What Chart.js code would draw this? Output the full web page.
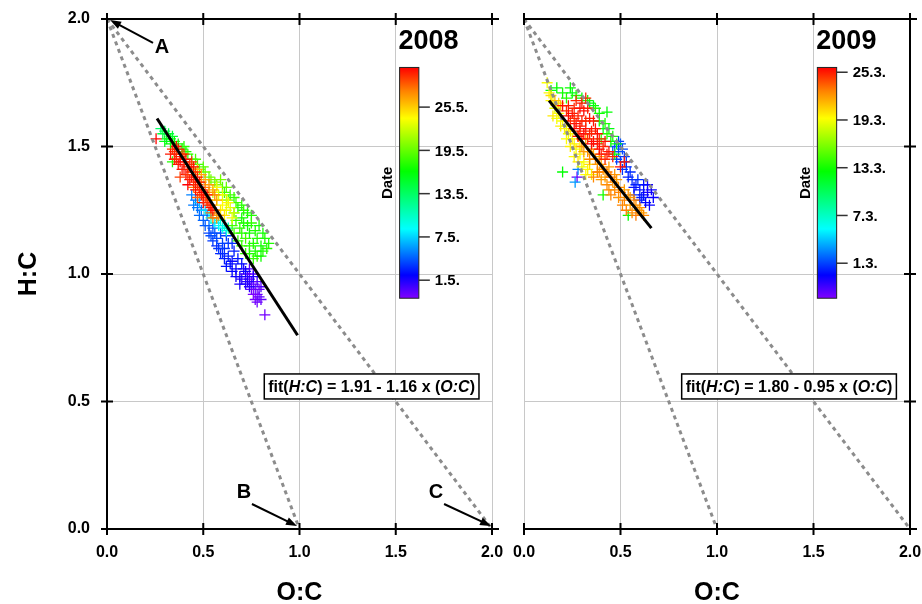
<!DOCTYPE html>
<html lang="en">
<head>
<meta charset="UTF-8" />
<title>Van Krevelen diagram 2008 / 2009</title>
<script src="https://cdn.jsdelivr.net/npm/chart.js@4.4.1/dist/chart.umd.min.js"></script>
<style>
  body { margin: 0; background: #fff; }
  #wrap { position: relative; width: 922px; height: 604px; }
  #wrap canvas { position: absolute; left: 0; top: 0; }
</style>
</head>
<body>
<div id="wrap">
  <canvas id="chart2008" width="922" height="604"></canvas>
  <canvas id="chart2009" width="922" height="604"></canvas>
</div>
<script>
// each point: [O:C, H:C, day]  (2008: day of May, <1 = end of April)
const points2008 = [
  [0.72,1.00,-0.8],[0.74,1.02,-0.5],[0.76,1.00,-1.0],[0.74,0.98,-0.3],[0.75,0.94,-1.2],[0.76,0.96,-0.6],
  [0.77,0.94,-0.9],[0.78,0.97,-0.2],[0.78,0.92,-1.1],[0.79,0.91,-0.7],[0.80,0.95,-0.4],[0.77,0.90,-1.3],
  [0.82,0.84,-1.2],[0.73,0.99,-0.1],[0.75,0.97,-0.9],[0.79,0.94,-1.0],[0.76,0.92,-1.4],[0.80,0.90,-0.8],
  [0.78,0.89,-1.1],
  [0.70,0.98,0.5],[0.73,0.97,0.8],[0.76,0.99,1.0],[0.74,0.95,0.6],[0.71,1.02,0.9],[0.72,0.96,0.7],
  [0.69,0.99,1.2],[0.69,0.96,1.1],[0.67,0.99,1.3],[0.72,1.01,1.4],[0.65,1.05,1.5],[0.67,1.02,1.6],
  [0.65,1.01,1.7],[0.70,1.04,1.8],[0.64,1.04,2.0],[0.62,1.03,2.1],[0.68,1.06,2.2],[0.61,1.06,2.3],
  [0.66,1.09,2.4],[0.59,1.08,2.5],[0.63,1.07,2.6],[0.57,1.11,2.7],[0.60,1.08,2.8],[0.65,1.12,2.8],
  [0.61,1.10,2.9],[0.58,1.10,3.0],[0.63,1.12,3.0],[0.55,1.13,3.1],[0.62,1.15,3.2],[0.60,1.12,3.3],
  [0.53,1.16,3.4],[0.57,1.14,3.5],[0.54,1.15,3.6],[0.59,1.16,3.6],[0.56,1.16,3.7],[0.55,1.18,3.8],
  [0.51,1.19,3.9],[0.53,1.19,4.0],[0.50,1.21,4.1],[0.52,1.23,4.3],[0.48,1.23,4.4],[0.49,1.25,4.5],
  [0.47,1.26,4.6],[0.46,1.29,4.7],[0.45,1.27,4.8],[0.44,1.31,4.9],
  [0.48,1.28,6.5],[0.51,1.25,7.0],[0.57,1.22,7.2],[0.56,1.20,7.5],[0.58,1.19,8.0],[0.53,1.24,8.2],
  [0.60,1.18,8.5],[0.61,1.19,8.8],[0.62,1.17,9.0],[0.59,1.21,9.2],[0.54,1.22,9.5],[0.63,1.18,9.8],
  [0.28,1.57,13.0],[0.30,1.56,13.5],[0.32,1.55,14.0],[0.29,1.55,14.2],[0.34,1.54,14.5],[0.31,1.53,15.0],
  [0.30,1.52,15.5],[0.33,1.53,15.5],[0.33,1.51,16.0],[0.36,1.50,16.0],[0.35,1.52,16.2],[0.39,1.49,16.5],
  [0.37,1.51,16.8],[0.41,1.48,17.0],[0.34,1.44,17.0],[0.40,1.50,17.2],[0.42,1.47,17.6],
  [0.68,1.26,17.0],[0.71,1.25,17.5],[0.66,1.24,18.0],[0.70,1.22,16.5],[0.75,1.23,17.0],[0.65,1.19,18.0],
  [0.69,1.18,17.5],[0.73,1.19,16.5],[0.77,1.17,17.0],[0.81,1.16,16.5],[0.68,1.13,17.5],[0.72,1.14,18.0],
  [0.76,1.12,17.0],[0.80,1.11,16.5],[0.84,1.12,17.0],[0.74,1.08,16.5],[0.78,1.07,17.5],[0.81,1.09,17.0],
  [0.70,1.27,17.2],[0.73,1.24,16.8],[0.67,1.21,17.6],[0.71,1.20,17.0],[0.75,1.20,17.4],[0.79,1.19,16.8],
  [0.66,1.16,17.9],[0.70,1.16,17.3],[0.74,1.16,16.7],[0.78,1.14,17.1],[0.82,1.14,16.9],[0.70,1.11,17.7],
  [0.74,1.11,17.3],[0.77,1.09,16.9],[0.83,1.10,17.2],[0.76,1.06,17.6],[0.80,1.07,16.6],[0.72,1.08,17.4],
  [0.44,1.45,17.5],[0.47,1.43,18.0],[0.50,1.42,18.5],[0.45,1.41,17.5],[0.46,1.45,18.2],[0.48,1.41,18.6],
  [0.53,1.38,19.0],[0.51,1.40,19.2],[0.56,1.36,19.5],[0.54,1.37,19.6],[0.59,1.37,19.5],[0.57,1.35,20.0],
  [0.60,1.34,18.5],[0.62,1.34,19.0],[0.61,1.32,18.0],[0.64,1.31,18.0],[0.63,1.29,18.4],[0.66,1.30,17.5],
  [0.67,1.28,17.8],
  [0.55,1.32,22.0],[0.58,1.31,22.5],[0.62,1.29,22.0],[0.57,1.29,23.0],[0.60,1.27,23.5],[0.62,1.25,23.0],
  [0.64,1.26,22.5],[0.66,1.24,22.0],[0.59,1.25,24.0],[0.57,1.34,23.2],[0.60,1.31,22.8],[0.63,1.28,23.6],
  [0.61,1.23,24.2],[0.65,1.22,23.0],
  [0.47,1.41,25.5],[0.49,1.39,26.0],[0.51,1.37,26.0],[0.53,1.35,26.5],[0.55,1.33,26.0],[0.49,1.36,26.5],
  [0.53,1.32,26.8],[0.57,1.29,26.2],[0.56,1.31,27.2],[0.50,1.31,27.0],[0.52,1.29,27.0],[0.54,1.27,26.5],
  [0.56,1.25,27.0],[0.58,1.23,26.5],[0.57,1.22,26.6],[0.55,1.22,27.5],[0.54,1.24,27.8],[0.45,1.34,27.5],
  [0.51,1.34,27.3],[0.48,1.32,28.0],[0.47,1.30,28.2],
  [0.34,1.49,29.0],[0.36,1.47,29.2],[0.35,1.45,29.5],[0.38,1.46,29.8],[0.37,1.43,30.0],[0.40,1.47,29.3],
  [0.40,1.44,29.6],[0.39,1.41,30.2],[0.42,1.42,29.9],[0.41,1.39,30.4],[0.44,1.44,29.1],[0.44,1.40,29.7],
  [0.43,1.37,30.1],[0.45,1.36,29.4],[0.47,1.38,29.8],[0.46,1.33,30.3],[0.48,1.34,29.5],[0.49,1.31,30.0],
  [0.51,1.30,29.2],[0.50,1.28,30.4],[0.53,1.27,29.7],[0.55,1.25,30.0],[0.38,1.38,29.0],[0.42,1.35,30.5],
  [0.36,1.50,30.2],[0.35,1.48,29.4],[0.37,1.49,30.1],[0.39,1.47,29.1],[0.41,1.45,30.3],[0.43,1.43,29.5],
  [0.45,1.42,30.2],[0.46,1.40,29.0],[0.44,1.38,29.9],[0.48,1.36,30.1],[0.47,1.35,29.3],[0.49,1.33,29.6],
  [0.50,1.32,30.5],[0.52,1.31,29.9],[0.52,1.28,29.4],[0.54,1.26,30.2],[0.40,1.41,29.8],[0.42,1.39,29.2],
  [0.38,1.44,30.4],[0.36,1.45,29.6],[0.46,1.37,30.0],[0.33,1.47,29.9],[0.255,1.53,30.3]
];

// each point: [O:C, H:C, day]  (2009: day of March, <1 = end of February)
const points2009 = [
  [0.64,1.32,-1.0],[0.66,1.33,-0.8],[0.64,1.35,-0.9],[0.65,1.27,-0.6],[0.67,1.30,-0.7],[0.63,1.28,-0.4],
  [0.62,1.35,-0.3],[0.62,1.31,-0.5],[0.60,1.33,-0.1],[0.60,1.29,0.0],[0.61,1.30,0.1],[0.58,1.35,0.2],
  [0.54,1.38,0.2],[0.57,1.31,0.3],[0.57,1.34,-0.2],[0.56,1.37,0.4],[0.55,1.40,0.5],[0.53,1.44,0.5],
  [0.53,1.42,0.6],[0.59,1.37,0.6],[0.51,1.41,0.7],[0.52,1.46,0.8],[0.49,1.52,0.8],[0.50,1.44,0.9],
  [0.48,1.45,1.0],[0.46,1.48,1.0],[0.51,1.49,1.1],[0.49,1.48,1.2],[0.47,1.50,1.3],[0.50,1.51,1.4],
  [0.275,1.38,-2.8],[0.28,1.41,2.5],[0.265,1.36,3.0],
  [0.14,1.72,12.0],[0.17,1.73,12.5],[0.20,1.71,13.0],[0.25,1.71,12.0],[0.24,1.73,12.7],[0.22,1.69,13.5],
  [0.27,1.70,13.2],[0.30,1.69,12.5],[0.33,1.68,13.0],[0.34,1.67,12.3],[0.36,1.66,12.0],[0.37,1.65,13.5],
  [0.43,1.635,12.5],[0.39,1.63,12.8],[0.39,1.60,13.0],[0.42,1.59,13.3],[0.41,1.57,12.0],[0.44,1.57,12.2],
  [0.43,1.55,13.5],[0.46,1.54,13.1],[0.45,1.52,12.5],[0.48,1.51,12.6],[0.47,1.47,13.0],[0.40,1.53,14.0],
  [0.20,1.40,12.5],[0.41,1.31,13.0],[0.54,1.23,12.5],
  [0.12,1.75,19.0],[0.13,1.71,19.5],[0.15,1.68,19.0],[0.14,1.68,19.4],[0.16,1.65,18.5],[0.18,1.63,19.2],
  [0.15,1.62,19.8],[0.17,1.61,19.0],[0.20,1.60,19.0],[0.19,1.58,19.6],[0.21,1.57,19.5],[0.22,1.58,18.9],
  [0.23,1.55,18.8],[0.22,1.53,19.2],[0.25,1.53,19.3],[0.24,1.50,19.6],[0.26,1.51,19.7],[0.27,1.49,19.0],
  [0.26,1.46,19.3],[0.29,1.47,19.4],[0.28,1.44,19.8],[0.31,1.44,19.1],[0.30,1.42,18.8],[0.33,1.41,19.5],
  [0.32,1.39,19.2],[0.35,1.39,19.7],[0.14,1.70,20.0],[0.18,1.67,20.2],[0.17,1.66,19.8],[0.24,1.56,20.0],
  [0.29,1.50,19.9],[0.34,1.43,20.1],
  [0.16,1.68,21.0],[0.19,1.66,21.3],[0.28,1.54,21.5],[0.32,1.53,21.8],[0.30,1.50,22.0],[0.33,1.48,22.2],
  [0.36,1.47,21.7],[0.39,1.46,22.0],[0.34,1.45,22.4],[0.38,1.43,22.1],[0.41,1.41,22.3],[0.44,1.42,21.9],
  [0.47,1.39,22.2],[0.36,1.38,22.5],[0.40,1.37,22.0],[0.43,1.35,22.4],[0.46,1.36,22.1],[0.49,1.34,22.3],
  [0.52,1.33,21.8],[0.45,1.31,22.6],[0.49,1.30,22.2],[0.52,1.29,22.5],[0.55,1.30,22.0],[0.58,1.27,22.3],
  [0.53,1.25,22.7],[0.56,1.24,22.4],[0.59,1.25,22.1],[0.62,1.23,22.5],[0.31,1.48,21.9],[0.35,1.49,22.3],
  [0.37,1.45,22.6],[0.40,1.43,21.8],[0.43,1.40,22.5],[0.39,1.40,22.2],[0.42,1.38,21.7],[0.45,1.38,22.8],
  [0.48,1.37,22.0],[0.47,1.33,22.4],[0.50,1.32,22.7],[0.54,1.31,22.1],[0.51,1.27,22.6],[0.55,1.27,21.9],
  [0.57,1.29,22.5],[0.60,1.26,22.2],[0.58,1.23,22.8],[0.61,1.24,21.9],[0.44,1.33,22.3],[0.38,1.40,22.6],
  [0.22,1.64,24.6],[0.27,1.68,24.8],[0.30,1.67,25.0],[0.32,1.69,24.7],[0.25,1.63,25.2],[0.28,1.62,24.9],
  [0.31,1.64,25.4],[0.34,1.61,25.1],[0.24,1.60,24.7],[0.27,1.59,25.3],[0.30,1.60,25.0],[0.26,1.57,25.5],
  [0.29,1.56,24.8],[0.32,1.57,25.2],[0.35,1.56,24.9],[0.38,1.55,25.4],[0.30,1.53,25.1],[0.33,1.53,24.6],
  [0.36,1.52,25.3],[0.38,1.51,25.0],[0.41,1.50,24.7],[0.44,1.48,25.2],[0.40,1.47,24.9],[0.52,1.44,25.0],
  [0.50,1.42,25.3],[0.20,1.66,25.5],[0.23,1.66,25.0],[0.26,1.65,24.7],[0.29,1.65,25.3],[0.33,1.65,24.9],
  [0.36,1.60,25.2],[0.23,1.62,25.4],[0.26,1.61,24.8],[0.29,1.58,25.0],[0.32,1.60,24.7],[0.28,1.54,25.2],
  [0.31,1.55,25.5],[0.34,1.55,24.8],[0.37,1.57,25.1],[0.35,1.51,25.4],[0.39,1.53,24.9],[0.42,1.52,25.3],
  [0.43,1.47,25.0],[0.46,1.46,24.8],[0.39,1.49,25.5],[0.42,1.45,24.7]
];

// fitted lines, end points
const fitLine2008 = [[0.26, 1.61], [0.99, 0.76]];
const fitLine2009 = [[0.13, 1.68], [0.66, 1.18]];
const fitCoef2008 = ['1.91', '1.16'];
const fitCoef2009 = ['1.80', '0.95'];

// reference lines from A (0,2) to B (1,0) and C (2,0)
const lineAB = [[0, 2], [1, 0]];
const lineAC = [[0, 2], [2, 0]];

const axisTicks = [0, 0.5, 1.0, 1.5, 2.0];

// colour bar: date range and tick labels
const dateRange2008 = [-1.5, 30.5];
const dateTicks2008 = [1, 7, 13, 19, 25];
const dateLabels2008 = ['1.5.', '7.5.', '13.5.', '19.5.', '25.5.'];
const dateRange2009 = [-3.4, 25.6];
const dateTicks2009 = [1, 7, 13, 19, 25];
const dateLabels2009 = ['1.3.', '7.3.', '13.3.', '19.3.', '25.3.'];

const FONT = "'Liberation Sans', Arial, sans-serif";
Chart.defaults.font.family = FONT;

const rainbowStops = [
  [0.00, [128, 0, 255]],
  [0.10, [0, 0, 255]],
  [0.30, [0, 255, 255]],
  [0.55, [0, 255, 0]],
  [0.78, [255, 255, 0]],
  [0.90, [255, 128, 0]],
  [1.00, [255, 0, 0]]
];

function rainbow(t) {
  t = Math.min(1, Math.max(0, t));
  for (let i = 1; i < rainbowStops.length; i++) {
    const [t0, c0] = rainbowStops[i - 1];
    const [t1, c1] = rainbowStops[i];
    if (t <= t1) {
      const f = (t - t0) / (t1 - t0);
      return 'rgb(' + c0.map((c, k) => Math.round(c + (c1[k] - c) * f)).join(',') + ')';
    }
  }
  return 'rgb(255,0,0)';
}

function arrow(ctx, x1, y1, x2, y2) {
  const a = Math.atan2(y2 - y1, x2 - x1), L = 11, W = 4;
  ctx.beginPath();
  ctx.moveTo(x1, y1);
  ctx.lineTo(x2 - Math.cos(a) * L * 0.7, y2 - Math.sin(a) * L * 0.7);
  ctx.stroke();
  ctx.beginPath();
  ctx.moveTo(x2, y2);
  ctx.lineTo(x2 - L * Math.cos(a) + W * Math.sin(a), y2 - L * Math.sin(a) - W * Math.cos(a));
  ctx.lineTo(x2 - L * Math.cos(a) - W * Math.sin(a), y2 - L * Math.sin(a) + W * Math.cos(a));
  ctx.closePath();
  ctx.fill();
}

// frame, colour bar, labels and fit box
const decor = {
  id: 'decor',
  afterDraw(chart, args, o) {
    const ctx = chart.ctx;
    const X = v => chart.scales.x.getPixelForValue(v);
    const Y = v => chart.scales.y.getPixelForValue(v);
    const {left: l, right: r, top: t, bottom: b} = chart.chartArea;
    ctx.save();

    // axes with crossing ticks
    ctx.strokeStyle = '#000';
    ctx.lineWidth = 2;
    const ax = o.side === 'left' ? l : r;
    ctx.beginPath();
    ctx.moveTo(ax, t); ctx.lineTo(ax, b);
    ctx.moveTo(l, t); ctx.lineTo(r + 7, t);
    ctx.moveTo(l, b); ctx.lineTo(r + 7, b);
    axisTicks.forEach(v => {
      const px = X(v), py = Y(v);
      ctx.moveTo(px, b - 6); ctx.lineTo(px, b + 6);
      ctx.moveTo(px, t - 6); ctx.lineTo(px, t + 6);
      ctx.moveTo(ax - 6, py); ctx.lineTo(ax + 6, py);
    });
    ctx.stroke();

    // colour bar
    const cl = X(1.52), cr = X(1.62), ct = Y(1.81), cb = Y(0.905);
    const grad = ctx.createLinearGradient(0, cb, 0, ct);
    rainbowStops.forEach(([s, c]) => grad.addColorStop(s, 'rgb(' + c.join(',') + ')'));
    ctx.fillStyle = grad;
    ctx.fillRect(cl, ct, cr - cl, cb - ct);
    ctx.lineWidth = 1;
    ctx.strokeStyle = '#222';
    ctx.strokeRect(cl, ct, cr - cl, cb - ct);
    const [d0, d1] = o.range;
    ctx.strokeStyle = '#333';
    ctx.lineWidth = 1.5;
    ctx.fillStyle = '#000';
    ctx.font = 'bold 15px ' + FONT;
    ctx.textAlign = 'left';
    ctx.textBaseline = 'middle';
    o.ticks.forEach((d, i) => {
      const yy = cb - (d - d0) / (d1 - d0) * (cb - ct);
      ctx.beginPath();
      ctx.moveTo(cr, yy); ctx.lineTo(cr + 11, yy);
      ctx.stroke();
      ctx.fillText(o.labels[i], cr + 16, yy + 1);
    });
    ctx.save();
    ctx.translate(cl - 12, (ct + cb) / 2);
    ctx.rotate(-Math.PI / 2);
    ctx.textAlign = 'center';
    ctx.fillText('Date', 0, 0);
    ctx.restore();

    // year
    ctx.font = 'bold 27px ' + FONT;
    ctx.textAlign = 'center';
    ctx.fillText(o.year, cl + 29, t + 23);

    // fit box
    const parts = [['fit(', ''], ['H:C', 'italic '], [') = ' + o.fit[0] + ' - ' + o.fit[1] + ' x (', ''], ['O:C', 'italic '], [')', '']];
    let w = 0;
    parts.forEach(p => { ctx.font = p[1] + 'bold 16px ' + FONT; w += ctx.measureText(p[0]).width; });
    const bx = X(0.817), by = Y(0.559), pad = 4;
    ctx.fillStyle = '#fff';
    ctx.fillRect(bx, by - 12.5, w + 2 * pad, 25);
    ctx.strokeStyle = '#000';
    ctx.lineWidth = 1.5;
    ctx.strokeRect(bx, by - 12.5, w + 2 * pad, 25);
    ctx.fillStyle = '#000';
    ctx.textAlign = 'left';
    let xx = bx + pad;
    parts.forEach(p => {
      ctx.font = p[1] + 'bold 16px ' + FONT;
      ctx.fillText(p[0], xx, by + 1);
      xx += ctx.measureText(p[0]).width;
    });

    // A, B, C markers
    if (o.letters) {
      ctx.font = 'bold 20px ' + FONT;
      ctx.textAlign = 'center';
      ctx.lineWidth = 2;
      ctx.strokeStyle = '#000';
      o.letters.forEach(n => {
        ctx.fillText(n.t, X(n.x), Y(n.y));
        arrow(ctx, X(n.from[0]), Y(n.from[1]), X(n.to[0]), Y(n.to[1]));
      });
    }
    ctx.restore();
  }
};

const letterNotes = [
  {t: 'A', x: 0.286, y: 1.89, from: [0.239, 1.906], to: [0.016, 1.996]},
  {t: 'B', x: 0.712, y: 0.145, from: [0.753, 0.098], to: [0.987, 0.012]},
  {t: 'C', x: 1.709, y: 0.145, from: [1.751, 0.098], to: [1.995, 0.012]}
];

const toXY = arr => arr.map(p => ({x: p[0], y: p[1]}));

function makeChart(id, cfg) {
  const colors = cfg.points.map(p => rainbow((p[2] - cfg.range[0]) / (cfg.range[1] - cfg.range[0])));
  const isLeft = cfg.side === 'left';
  return new Chart(document.getElementById(id), {
    type: 'scatter',
    data: {
      datasets: [
        {data: toXY(cfg.fit), showLine: true, borderColor: '#000', borderWidth: 3, pointRadius: 0},
        {data: toXY(lineAB), showLine: true, borderColor: '#8c8c8c', borderWidth: 3, borderDash: [4, 4], pointRadius: 0},
        {data: toXY(lineAC), showLine: true, borderColor: '#8c8c8c', borderWidth: 3, borderDash: [4, 4], pointRadius: 0},
        {
          data: toXY(cfg.points),
          pointStyle: 'cross',
          pointRadius: 5.5,
          pointBorderWidth: 1.3,
          pointBorderColor: colors,
          pointBackgroundColor: colors
        }
      ]
    },
    options: {
      responsive: false,
      animation: false,
      events: [],
      layout: {padding: isLeft ? {left: 0, top: 19, right: 430, bottom: 0} : {left: 524, top: 19, right: 12, bottom: 0}},
      plugins: {
        legend: {display: false},
        tooltip: {enabled: false},
        decor: {side: cfg.side, year: cfg.year, range: cfg.range, ticks: cfg.ticks, labels: cfg.labels,
                fit: cfg.coef, letters: isLeft ? letterNotes : null}
      },
      scales: {
        x: {
          type: 'linear', min: 0, max: 2,
          ticks: {stepSize: 0.5, callback: v => v.toFixed(1), color: '#000', padding: 14, maxRotation: 0,
                  font: {size: 16, weight: 'bold'}},
          grid: {color: '#c8c8c8', drawTicks: false, lineWidth: 1},
          border: {display: false},
          title: {display: true, text: 'O:C', color: '#000', padding: {top: 0, bottom: 0},
                  font: {size: 25, weight: 'bold', lineHeight: 0.9}},
          afterFit: s => { s.height = 75; s.paddingLeft = 0; s.paddingRight = 0; }
        },
        y: {
          type: 'linear', min: 0, max: 2, position: cfg.side,
          ticks: {display: isLeft, stepSize: 0.5, callback: v => v.toFixed(1), color: '#000', padding: 17,
                  font: {size: 16, weight: 'bold'}},
          grid: {color: '#c8c8c8', drawTicks: false, lineWidth: 1},
          border: {display: false},
          title: {display: isLeft, text: 'H:C', color: '#000', padding: {top: 17, bottom: 0},
                  font: {size: 25, weight: 'bold', lineHeight: 1}},
          afterFit: s => { s.width = isLeft ? 107 : 0; s.paddingTop = 0; s.paddingBottom = 0; }
        }
      }
    },
    plugins: [decor]
  });
}

makeChart('chart2008', {side: 'left', year: '2008', points: points2008, fit: fitLine2008, coef: fitCoef2008,
  range: dateRange2008, ticks: dateTicks2008, labels: dateLabels2008});
makeChart('chart2009', {side: 'right', year: '2009', points: points2009, fit: fitLine2009, coef: fitCoef2009,
  range: dateRange2009, ticks: dateTicks2009, labels: dateLabels2009});
</script>
</body>
</html>
